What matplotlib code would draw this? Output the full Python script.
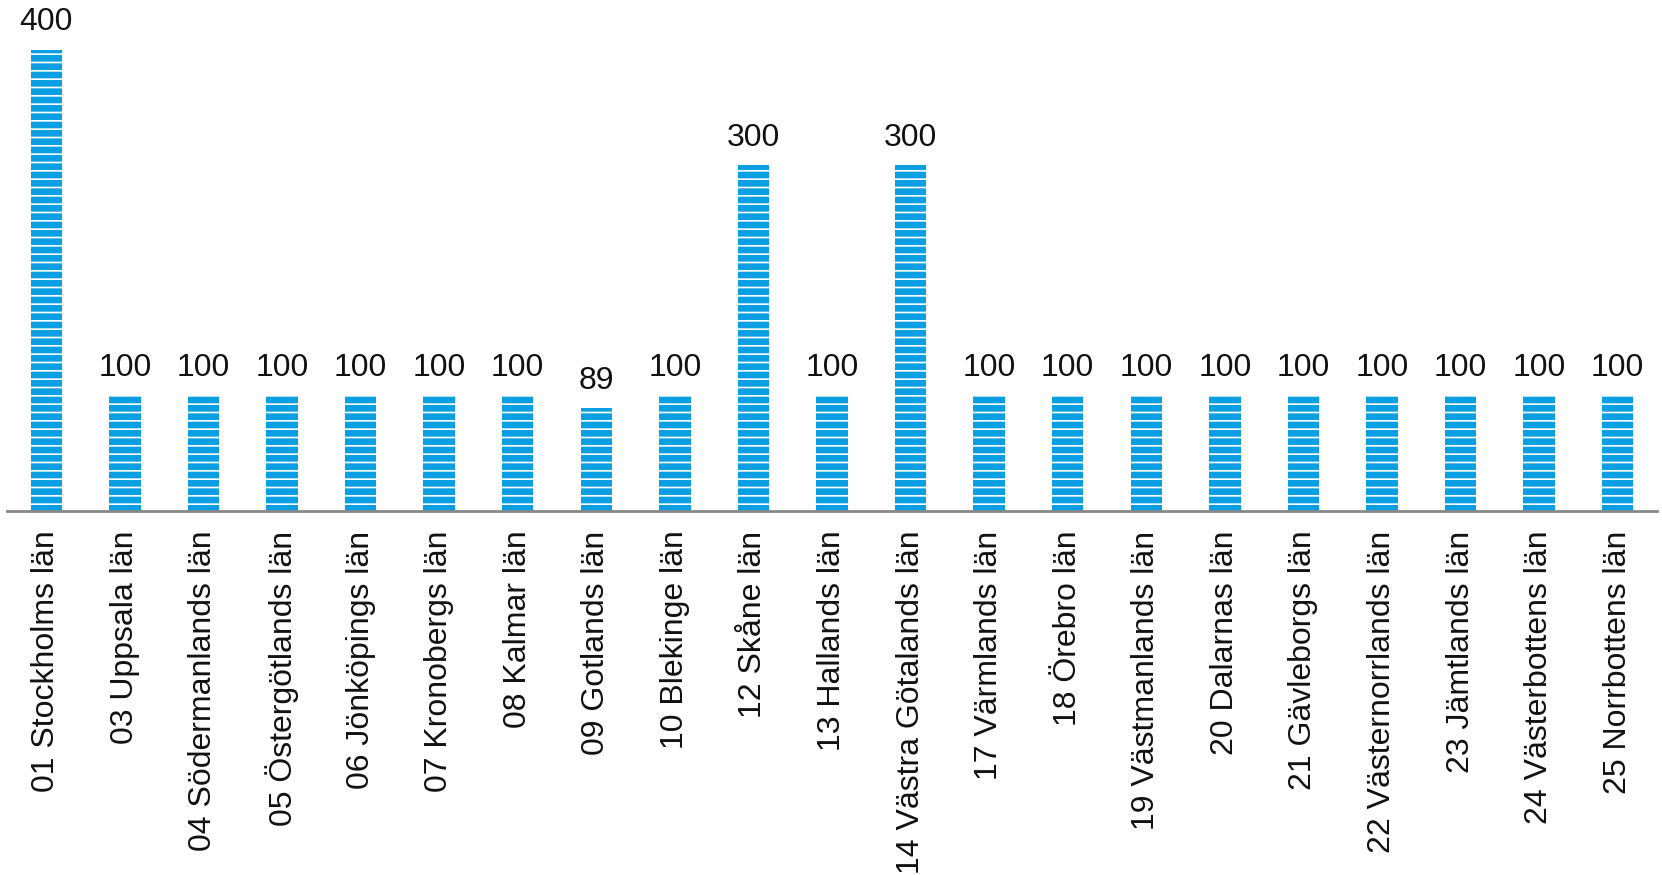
import numpy as np
import matplotlib.pyplot as plt

plt.rcParams['font.family'] = ['Liberation Sans', 'DejaVu Sans']
plt.rcParams['hatch.linewidth'] = 1.2

#__Datos__###############################
lan = ['01 Stockholms län', '03 Uppsala län', '04 Södermanlands län',
       '05 Östergötlands län', '06 Jönköpings län', '07 Kronobergs län',
       '08 Kalmar län', '09 Gotlands län', '10 Blekinge län', '12 Skåne län',
       '13 Hallands län', '14 Västra Götalands län', '17 Värmlands län',
       '18 Örebro län', '19 Västmanlands län', '20 Dalarnas län',
       '21 Gävleborgs län', '22 Västernorrlands län', '23 Jämtlands län',
       '24 Västerbottens län', '25 Norrbottens län']
valores = [400, 100, 100, 100, 100, 100, 100, 89, 100, 300,
           100, 300, 100, 100, 100, 100, 100, 100, 100, 100, 100]
#########################################

fig = plt.figure(figsize=(16.62, 8.75), dpi=100)
ax = fig.add_axes([7/1662, 1 - 511/875, 1650/1662, (511 - 50)/875])

x = np.arange(len(lan))
barras = ax.bar(x, valores, width=0.4, color='#0A9FE2',
                edgecolor='white', linewidth=0, hatch='--')

for xi, v in zip(x, valores):
    ax.annotate(str(v), (xi, v), xytext=(0, 9), textcoords='offset points',
                ha='center', va='bottom', fontsize=23, color='#111111',
                annotation_clip=False)

ax.set_xlim(-0.5, len(lan) - 0.5)
ax.set_ylim(0, 400)
ax.set_xticks(x)
ax.set_xticklabels(lan, rotation=90, fontsize=23, color='#111111')
ax.tick_params(axis='x', length=0, pad=14)
ax.set_yticks([])
for lado in ['top', 'right', 'left']:
    ax.spines[lado].set_visible(False)
ax.spines['bottom'].set_color('#888888')
ax.spines['bottom'].set_linewidth(2)

fig.savefig('out.png', dpi=100)
